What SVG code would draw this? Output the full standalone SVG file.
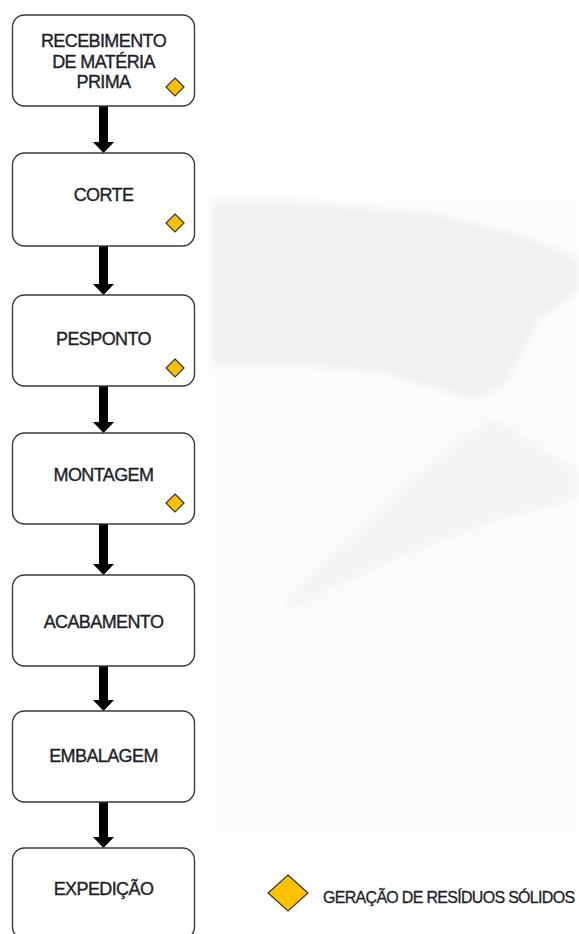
<svg xmlns="http://www.w3.org/2000/svg" width="579" height="934" viewBox="0 0 579 934">
<defs>
<filter id="soft" x="-10%" y="-10%" width="120%" height="120%"><feGaussianBlur stdDeviation="4"/></filter>
</defs>
<style>
.box{fill:#fff;stroke:#3a3a3a;stroke-width:1.4}
.lbl{font-family:"Liberation Sans",Arial,sans-serif;font-size:18px;letter-spacing:-0.6px;fill:#1e1e28;stroke:#1e1e28;stroke-width:0.35;text-anchor:middle}
.leg{font-family:"Liberation Sans",Arial,sans-serif;font-size:16px;letter-spacing:-0.7px;fill:#1e1e28;stroke:#1e1e28;stroke-width:0.3}
.dia{fill:#ffc000;stroke:#333;stroke-width:1.2}
.arr{fill:#000}
</style>
<g id="watermark" filter="url(#soft)">
<rect x="211" y="195" width="368" height="640" fill="#fcfcfc"/>
<polygon points="211,200 300,203 433,213 520,235 579,258 579,290 540,320 505,385 475,400 440,390 380,372 300,366 211,367" fill="#f1f1f1"/>
<polygon points="493,417 530,440 579,470 579,500 500,520 420,550 330,590 290,612 285,600 330,555 400,490 450,445" fill="#f5f5f5"/>
</g>
<g id="connectors">
<path class="arr" d="M99,106 H108 V142 H114 L103.5,153 L93,142 H99 Z"/>
<path class="arr" d="M99,246 H108 V284 H114 L103.5,295 L93,284 H99 Z"/>
<path class="arr" d="M99,386 H108 V422 H114 L103.5,433 L93,422 H99 Z"/>
<path class="arr" d="M99,524 H108 V564 H114 L103.5,575 L93,564 H99 Z"/>
<path class="arr" d="M99,666 H108 V700 H114 L103.5,711 L93,700 H99 Z"/>
<path class="arr" d="M99,802 H108 V837 H114 L103.5,848 L93,837 H99 Z"/>
</g>
<g id="n1">
<rect class="box" x="12.5" y="15" width="182" height="91" rx="12"/>
<text class="lbl" x="103.5" y="47">RECEBIMENTO</text>
<text class="lbl" x="103.5" y="67.5">DE MATÉRIA</text>
<text class="lbl" x="103.5" y="88">PRIMA</text>
<polygon class="dia" points="175,78 184,87 175,96 166,87"/>
</g>
<g id="n2">
<rect class="box" x="12.5" y="153" width="182" height="93" rx="12"/>
<text class="lbl" x="103.5" y="201">CORTE</text>
<polygon class="dia" points="175,214 184,223 175,232 166,223"/>
</g>
<g id="n3">
<rect class="box" x="12.5" y="295" width="182" height="91" rx="12"/>
<text class="lbl" x="103.5" y="345">PESPONTO</text>
<polygon class="dia" points="175,359 184,368 175,377 166,368"/>
</g>
<g id="n4">
<rect class="box" x="12.5" y="433" width="182" height="91" rx="12"/>
<text class="lbl" x="103.5" y="481">MONTAGEM</text>
<polygon class="dia" points="175,494 184,503 175,512 166,503"/>
</g>
<g id="n5">
<rect class="box" x="12.5" y="575" width="182" height="91" rx="12"/>
<text class="lbl" x="103.5" y="628">ACABAMENTO</text>
</g>
<g id="n6">
<rect class="box" x="12.5" y="711" width="182" height="91" rx="12"/>
<text class="lbl" x="103.5" y="762">EMBALAGEM</text>
</g>
<g id="n7">
<rect class="box" x="12.5" y="848" width="182" height="91" rx="12"/>
<text class="lbl" x="103.5" y="895">EXPEDIÇÃO</text>
</g>
<g id="legend">
<polygon class="dia" points="288,875 308,893 288,911 268,893"/>
<text class="leg" x="323" y="903">GERAÇÃO DE RESÍDUOS SÓLIDOS</text>
</g>
</svg>
